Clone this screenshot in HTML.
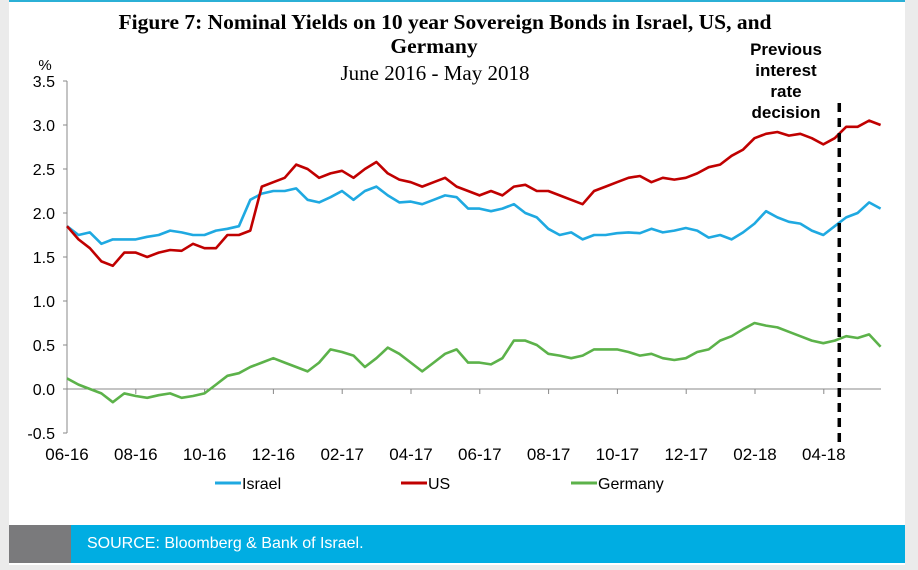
<!DOCTYPE html>
<html><head><meta charset="utf-8">
<style>
body{margin:0;background:#ebebeb;width:918px;height:570px;overflow:hidden;font-family:"Liberation Sans",sans-serif;}
#card{position:absolute;left:9px;top:0;width:896px;height:563px;background:#fff;border-top:2px solid #2bb0d6;}
#footer-grey{position:absolute;left:9px;top:525px;width:62px;height:38px;background:#7a7a7c;}
#footer{position:absolute;left:71px;top:525px;width:834px;height:38px;background:#00ade2;color:#fff;font-size:16px;line-height:38px;padding-left:16px;box-sizing:border-box;}
svg{position:absolute;left:0;top:0;}
</style></head><body>
<div id="card"></div>
<div id="footer-grey"></div>
<div id="footer">SOURCE: Bloomberg &amp; Bank of Israel.</div>
<svg id="chart" width="918" height="520"></svg>
<script>
const xLabels=["06-16","08-16","10-16","12-16","02-17","04-17","06-17","08-17","10-17","12-17","02-18","04-18"];
const yTicks=[-0.5,0,0.5,1,1.5,2,2.5,3,3.5];
const israel=[1.85,1.75,1.78,1.65,1.70,1.70,1.70,1.73,1.75,1.80,1.78,1.75,1.75,1.80,1.82,1.85,2.15,2.22,2.25,2.25,2.28,2.15,2.12,2.18,2.25,2.15,2.25,2.30,2.20,2.12,2.13,2.10,2.15,2.20,2.18,2.05,2.05,2.02,2.05,2.10,2.00,1.95,1.82,1.75,1.78,1.70,1.75,1.75,1.77,1.78,1.77,1.82,1.78,1.80,1.83,1.80,1.72,1.75,1.70,1.78,1.88,2.02,1.95,1.90,1.88,1.80,1.75,1.85,1.95,2.00,2.12,2.05];
const us=[1.85,1.70,1.60,1.45,1.40,1.55,1.55,1.50,1.55,1.58,1.57,1.65,1.60,1.60,1.75,1.75,1.80,2.30,2.35,2.40,2.55,2.50,2.40,2.45,2.48,2.40,2.50,2.58,2.45,2.38,2.35,2.30,2.35,2.40,2.30,2.25,2.20,2.25,2.20,2.30,2.32,2.25,2.25,2.20,2.15,2.10,2.25,2.30,2.35,2.40,2.42,2.35,2.40,2.38,2.40,2.45,2.52,2.55,2.65,2.72,2.85,2.90,2.92,2.88,2.90,2.85,2.78,2.85,2.98,2.98,3.05,3.00];
const germany=[0.12,0.05,0.0,-0.05,-0.15,-0.05,-0.08,-0.10,-0.07,-0.05,-0.10,-0.08,-0.05,0.05,0.15,0.18,0.25,0.30,0.35,0.30,0.25,0.20,0.30,0.45,0.42,0.38,0.25,0.35,0.47,0.40,0.30,0.20,0.30,0.40,0.45,0.30,0.30,0.28,0.35,0.55,0.55,0.50,0.40,0.38,0.35,0.38,0.45,0.45,0.45,0.42,0.38,0.40,0.35,0.33,0.35,0.42,0.45,0.55,0.60,0.68,0.75,0.72,0.70,0.65,0.60,0.55,0.52,0.55,0.60,0.58,0.62,0.48];
const decisionMonth=22.45;
const X0=67,PXM=34.4,Y0=389,PXV=88;
function xM(m){return X0+m*PXM;}
function xI(i,n){return xM(i*23.65/(n-1));}
function yV(v){return Y0-v*PXV;}
const svg=document.getElementById('chart');const NS="http://www.w3.org/2000/svg";
function mk(t,a,txt){const e=document.createElementNS(NS,t);for(const k in a)e.setAttribute(k,a[k]);if(txt!==undefined)e.textContent=txt;svg.appendChild(e);return e;}
let e;
e=mk('text',{x:445,y:29,'text-anchor':'middle','font-family':'Liberation Serif,serif','font-weight':'bold','font-size':21.5},"Figure 7: Nominal Yields on 10 year Sovereign Bonds in Israel, US, and");


e=mk('text',{x:434,y:53,'text-anchor':'middle','font-family':'Liberation Serif,serif','font-weight':'bold','font-size':21.5},"Germany");


e=mk('text',{x:435,y:80,'text-anchor':'middle','font-family':'Liberation Serif,serif','font-size':21},"June 2016 - May 2018");


e=mk('text',{x:45,y:70,'text-anchor':'middle','font-size':15},"%");


e=mk('line',{x1:X0,y1:yV(3.5),x2:X0,y2:yV(-0.5),stroke:'#888','stroke-width':1});


yTicks.forEach(v=>{
 e=mk('text',{x:55,y:yV(v)+6,'text-anchor':'end','font-size':16},v.toFixed(1));
 
 
 e=mk('line',{x1:X0-4,y1:yV(v),x2:X0,y2:yV(v),stroke:'#888'});
 
 
});
e=mk('line',{x1:X0,y1:yV(0),x2:881,y2:yV(0),stroke:'#888','stroke-width':1});


xLabels.forEach((l,i)=>{
 const x=xM(i*2);
 e=mk('line',{x1:x,y1:yV(0),x2:x,y2:yV(0)+5,stroke:'#888'});
 
 
 e=mk('text',{x:x,y:460,'text-anchor':'middle','font-size':17},l);
 
 
});
function series(arr,color,name){
 const pts=arr.map((v,i)=>xI(i,arr.length).toFixed(1)+','+yV(v).toFixed(1)).join(' ');
 const p=mk('polyline',{points:pts,fill:'none',stroke:color,'stroke-width':2.6,'stroke-linejoin':'round'});
 
 
}
series(germany,'#5cb24a','germany-line');
series(israel,'#1fa9e1','israel-line');
series(us,'#c00000','us-line');
e=mk('line',{x1:xM(decisionMonth),y1:103,x2:xM(decisionMonth),y2:442,stroke:'#000','stroke-width':3.5,'stroke-dasharray':'9,6'});


["Previous","interest","rate","decision"].forEach((t,i)=>{
 e=mk('text',{x:786,y:55+i*21,'text-anchor':'middle','font-weight':'bold','font-size':17},t);
 
 
});
[["Israel",215,'#1fa9e1'],["US",401,'#c00000'],["Germany",571,'#5cb24a']].forEach(([t,x,c])=>{
 e=mk('line',{x1:x,y1:483,x2:x+26,y2:483,stroke:c,'stroke-width':3});
 
 
 e=mk('text',{x:x+27,y:489,'font-size':16},t);
 
 
});
</script>
</body></html>
